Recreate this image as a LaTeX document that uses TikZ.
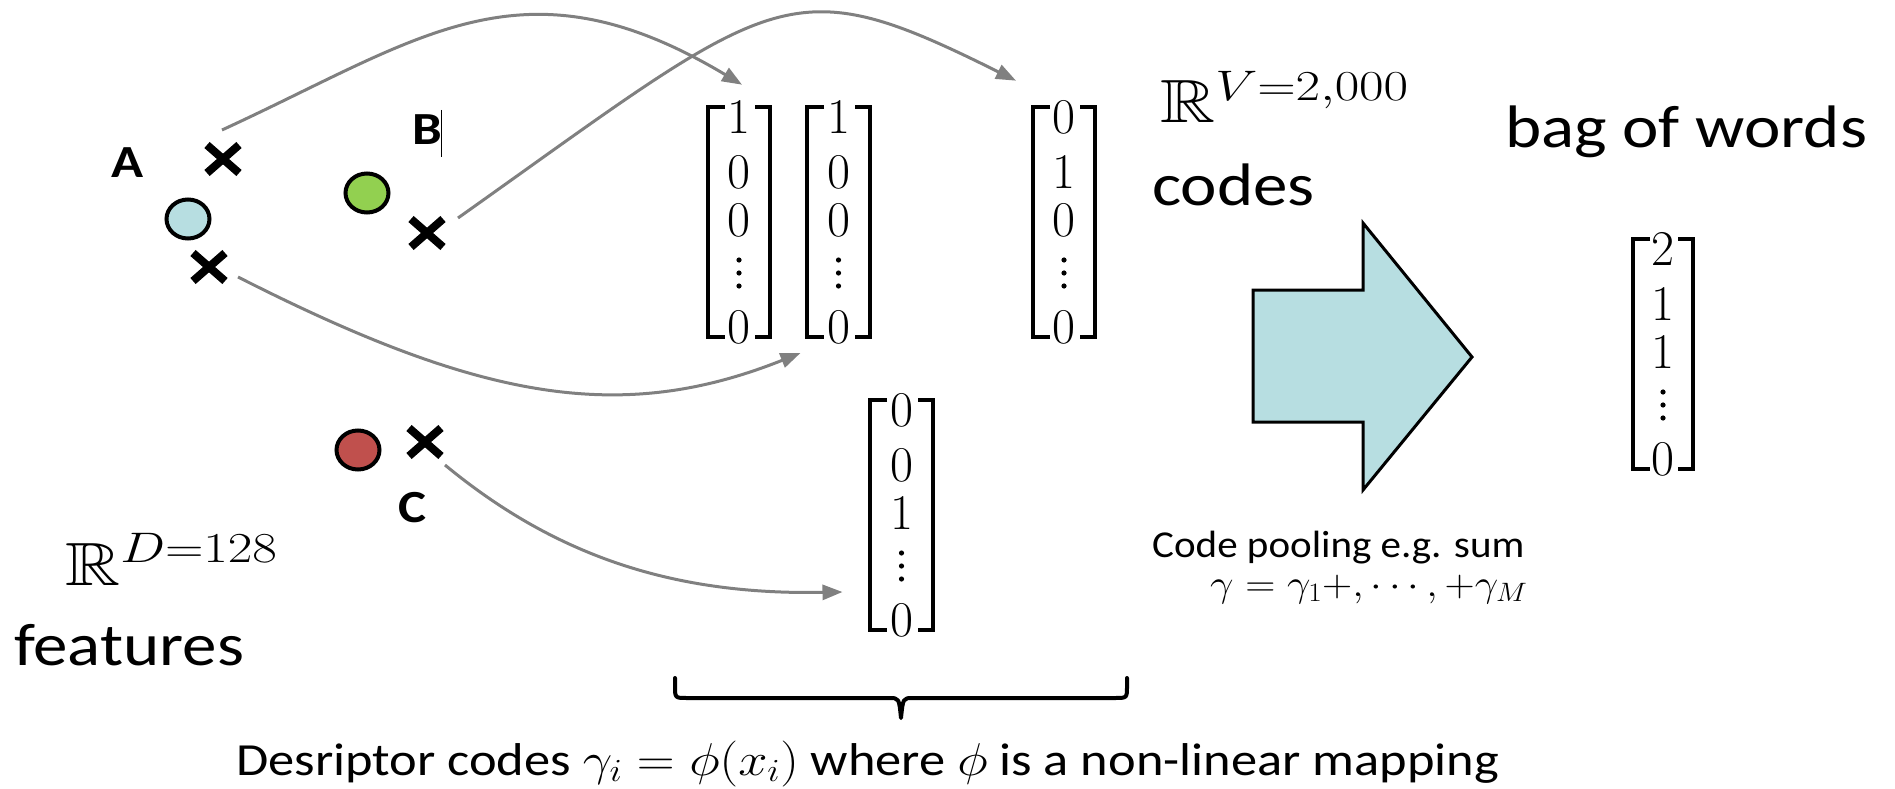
\RequirePackage{fix-cm}
\documentclass[tikz,border=0pt]{standalone}
\usepackage[no-math]{fontspec}
\setmainfont{Carlito}
\usepackage{amssymb}
\usepackage{graphicx}
\usetikzlibrary{arrows.meta,shapes.misc,shapes.geometric,calc}

\definecolor{pointblue}{HTML}{B7DEE1}
\definecolor{pointgreen}{HTML}{92D050}
\definecolor{pointred}{HTML}{C0504D}
\definecolor{linkgray}{HTML}{808080}

\newcommand\fs[1]{\fontsize{#1}{#1}\selectfont}
\newcommand\wide[1]{\scalebox{1.15}[1]{#1}}
\newcommand\widemath[1]{\scalebox{1.25}[1]{#1}}

% column vector: #1 name, #2 left x, #3 top y, #4 width, #5 rows 1-3 and last
\newcommand\colvec[8]{%
  \draw[bracket] ({#2+17},{#3}) -- ({#2},{#3}) -- ({#2},{#3+230}) -- ({#2+17},{#3+230});
  \draw[bracket] ({#2+#4-15},{#3}) -- ({#2+#4},{#3}) -- ({#2+#4},{#3+230}) -- ({#2+#4-15},{#3+230});
  \node[entry] (#1-1) at ({#2+#4/2},{#3+10}) {$#5$};
  \node[entry] (#1-2) at ({#2+#4/2},{#3+65}) {$#6$};
  \node[entry] (#1-3) at ({#2+#4/2},{#3+113}) {$#7$};
  \coordinate (#1-4) at ({#2+#4/2},{#3+166});
  \foreach \d in {-13,0,13} \fill ($(#1-4)+(0,\d)$) circle[radius=2.6pt];
  \node[entry] (#1-5) at ({#2+#4/2},{#3+220}) {$#8$};
  \coordinate (#1) at ({#2+#4/2},{#3+115});
}

\tikzset{
  point/.style={ellipse, draw, line width=4pt, minimum width=43pt, minimum height=39pt, inner sep=0pt},
  xmark/.style={cross out, draw, line width=8pt, minimum width=24pt, minimum height=20pt, inner sep=0pt},
  link/.style={draw=linkgray, line width=3pt, -{Triangle[length=20pt,width=15pt]}},
  bracket/.style={line width=3.5pt},
  entry/.style={inner sep=0pt, font=\fs{50}},
  letter/.style={inner sep=0pt, font=\fs{46}\bfseries},
  big/.style={inner sep=0pt, anchor=base west, font=\fs{60}},
  mathlbl/.style={inner sep=0pt, anchor=base west, font=\fs{61}},
  small/.style={inner sep=0pt, font=\fs{38}},
}

\begin{document}
\begin{tikzpicture}[x=1pt,y=-1pt]
\useasboundingbox (0,0) rectangle (1895,789);

% feature points and their descriptors
\node[point, fill=pointblue] (ca) at (188,219) {};
\node[point, fill=pointgreen] (cb) at (367,193) {};
\node[point, fill=pointred] (cc) at (358,450) {};
\node[xmark] (xa1) at (223,159) {};
\node[xmark] (xa2) at (209,267) {};
\node[xmark] (xb) at (427,233) {};
\node[xmark] (xc) at (425,442) {};

\node[letter] (la) at (128,163) {\wide{A}};
\node[letter] (lb) at (427,130) {\wide{B}};
\node[letter] (lc) at (412,508) {\wide{C}};
\draw[line width=1pt] (441,110) -- (441,157);

% descriptor codes
\colvec{m1}{708}{107}{62}{1}{0}{0}{0}
\colvec{m2}{807}{107}{63}{1}{0}{0}{0}
\colvec{m3}{1033}{107}{62}{0}{1}{0}{0}
\colvec{m4}{870}{400}{63}{0}{0}{1}{0}

% bag of words histogram
\colvec{bw}{1633}{239}{60}{2}{1}{1}{0}

% assignments of descriptors to codes
\draw[link] ($(xa1)+(-1,-29)$) .. controls (422,38) and (522,-47) .. ($(m1-1.north)+(3,-16)$);
\draw[link] ($(xb)+(31,-15)$) .. controls (778,-9) and (786,-34) .. ($(m3-1.north)+(-48,-20)$);
\draw[link] ($(xa2)+(29,10)$) .. controls (480,400) and (620,425) .. ($(m2-5)+(-38,26)$);
\draw[link] ($(xc)+(20,23)$) .. controls (560,560) and (680,595) .. ($(m4)+(-59,77)$);

% pooling arrow
\draw[line width=3pt, fill=pointblue, line join=miter]
  (1253,290) -- (1363,290) -- (1363,223) -- (1472,357) -- (1363,490) -- (1363,422) -- (1253,422) -- cycle;

% brace under the codes
\draw[line width=4pt, line cap=round, line join=round]
  (675,678) -- (675,686) .. controls (675,698) .. (687,698) -- (889,698)
  .. controls (899,698) .. (901,718) .. controls (903,698) .. (913,698)
  -- (1115,698) .. controls (1127,698) .. (1127,686) -- (1127,678);

% labels
\node[mathlbl] (rd) at (65,585) {\widemath{$\mathbb{R}^{D=128}$}};
\node[big] (feat) at (14,665) {\wide{features}};
\node[mathlbl] (rv) at (1160,123) {\widemath{$\mathbb{R}^{V=2{,}000}$}};
\node[big] (codes) at (1152,205) {\wide{codes}};
\node[big] (bow) at (1505,147) {\wide{bag of words}};
\node[small, anchor=base west] (pool) at (1152,557) {\scalebox{1.08}[1]{Code pooling e.g. sum}};
\node[small, anchor=base west] (sum) at (1210,596) {\scalebox{1.1}[1]{$\gamma=\gamma_1{+},\cdots,{+}\gamma_M$}};
\node[inner sep=0pt, anchor=base west, font=\fs{46}] (desc) at (236,775)
  {\scalebox{1.14}[1]{Desriptor codes $\gamma_i=\phi(x_i)$ where $\phi$ is a non-linear mapping}};
\end{tikzpicture}
\end{document}
